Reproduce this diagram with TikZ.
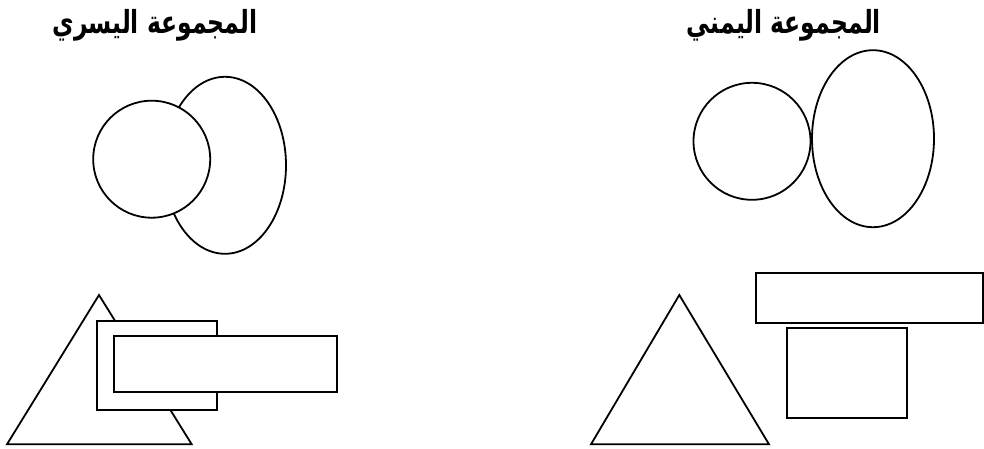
\documentclass[tikz,border=0pt]{standalone}
\usepackage{fontspec}
\usepackage{graphicx}
\newfontfamily\arabicfont[Script=Arabic]{DejaVu Sans}
\TeXXeTstate=1
\usetikzlibrary{shapes.geometric}
\begin{document}
\begin{tikzpicture}[x=1pt,y=-1pt,
  shp/.style={draw=black,line width=1.8pt,fill=white,inner sep=0pt},
  circ/.style={shp,circle,minimum size=117pt},
  ell/.style={shp,ellipse,minimum width=122pt,minimum height=177pt},
  lbl/.style={font=\arabicfont\bfseries\fontsize{23.5}{28}\selectfont,inner sep=0pt}]
\useasboundingbox (0,0) rectangle (984,449);
\fill[white] (0,0) rectangle (984,449);
% labels
\node[lbl] (ltitle) at (155,25) {\scalebox{1}[1.35]{\beginR المجموعة اليسري\endR}};
\node[lbl] (rtitle) at (784,25) {\scalebox{1}[1.35]{\beginR المجموعة اليمني\endR}};
% left group
\node[ell] (lell) at (225,165.3) {};
\node[circ] (lcirc) at (151.7,159.2) {};
\draw[shp] (7,444.3) -- (99,295) -- (191.7,444.3) -- cycle;
\draw[shp] (97,320.7) rectangle (217.3,410);
\draw[shp] (114.3,336) rectangle (336.7,391.7);
% right group
\node[circ] (rcirc) at (752,141.3) {};
\node[ell] (rell) at (873,138.7) {};
\draw[shp] (591,444.3) -- (679.3,295) -- (769,444.3) -- cycle;
\draw[shp] (756,272.7) rectangle (983.3,323.3);
\draw[shp] (787.3,328.3) rectangle (907.3,417.7);
\end{tikzpicture}
\end{document}
